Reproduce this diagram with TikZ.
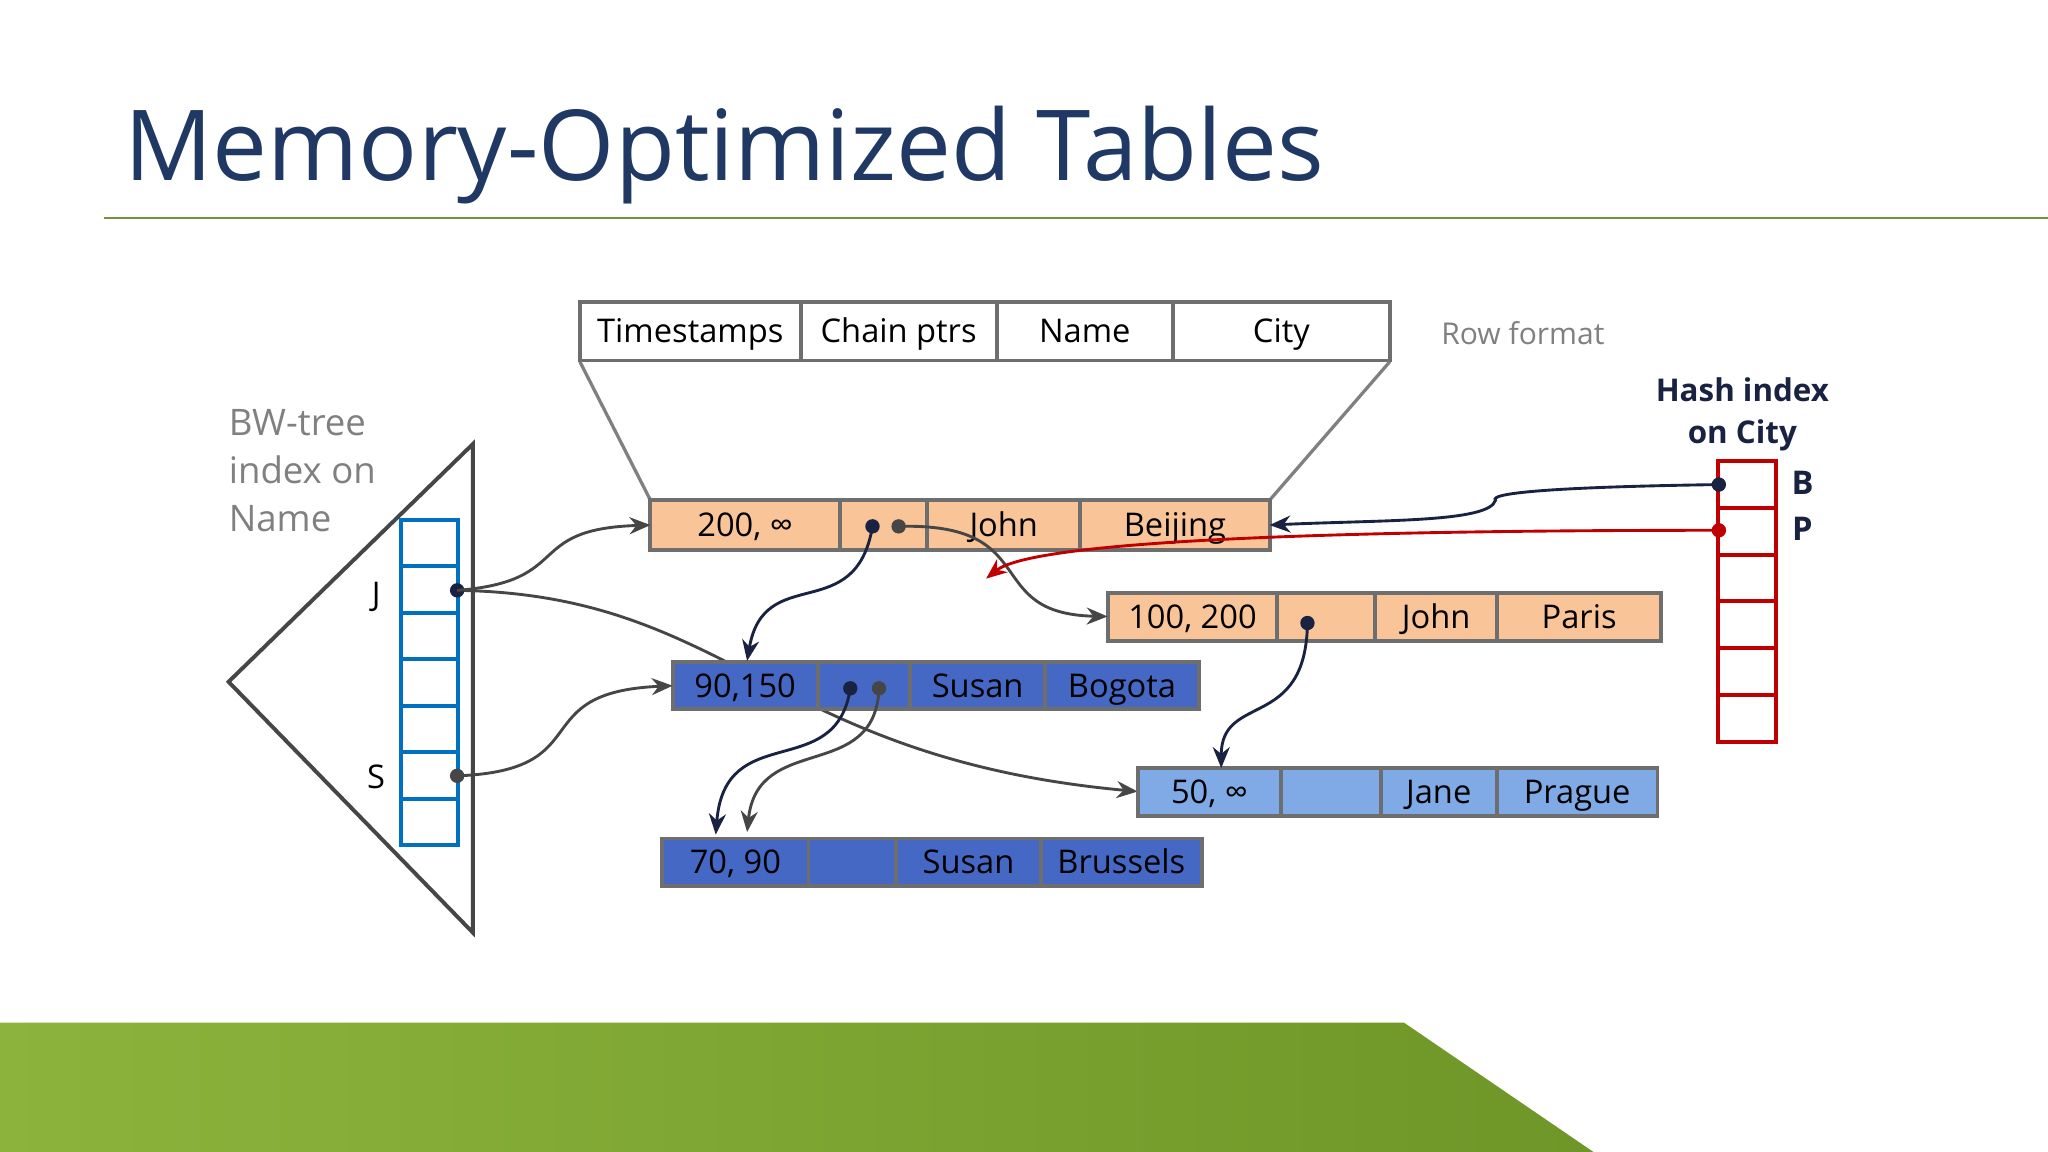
\documentclass[tikz,border=0pt]{standalone}
\usepackage{fontspec}
\setmainfont{Open Sans}
\usetikzlibrary{arrows.meta}
\definecolor{title}{RGB}{31,56,100}
\definecolor{gline}{RGB}{118,146,60}
\definecolor{orng}{RGB}{248,196,152}
\definecolor{dblue}{RGB}{68,104,196}
\definecolor{lblue}{RGB}{128,170,230}
\definecolor{bord}{RGB}{110,110,110}
\definecolor{navy}{RGB}{25,35,65}
\definecolor{arr}{RGB}{70,70,70}
\definecolor{hred}{RGB}{192,0,0}
\definecolor{bwblue}{RGB}{0,112,192}
\newcommand{\rc}[7]{%
  \path[draw=bord,line width=3pt,fill=#6] (#2,#4) rectangle (#3,#5);
  \node[font=\fontsize{25}{28}\selectfont,anchor=base,inner sep=0] (#1) at ({(#2+#3)/2},{(#4+#5)/2+9}) {#7};}
\tikzset{conn/.style={line width=2.2pt,-{Stealth[length=16pt,width=13pt]}},
  dotc/.style={circle,fill,inner sep=0pt,minimum size=11pt}}
\begin{document}
\begin{tikzpicture}[x=1pt,y=-1pt]
\useasboundingbox (0,0) rectangle (1568,882);
\fill[white] (0,0) rectangle (1568,882);
\node[anchor=base west,text=title,font=\fontsize{75}{80}\selectfont,inner sep=0] (ttl) at (95,138) {Memory-Optimized Tables};
\draw[gline,line width=2pt] (80,167) -- (1568,167);
\shade[left color={rgb,255:red,140;green,180;blue,60},right color={rgb,255:red,110;green,150;blue,40}] (0,783) -- (1075,783) -- (1220,882) -- (0,882) -- cycle;
% header
\rc{h1}{444}{613}{231}{276}{white}{Timestamps}
\rc{h2}{613}{763}{231}{276}{white}{Chain ptrs}
\rc{h3}{763}{898}{231}{276}{white}{Name}
\rc{h4}{898}{1064}{231}{276}{white}{City}
\node[text=gray,font=\fontsize{23}{28}\selectfont,anchor=west] (rf) at (1100,255) {Row format};
\draw[gray,line width=2.5pt] (444,277) -- (498,383) (1064,277) -- (972,383);
% triangle & BW tree
\draw[arr,line width=3pt,line join=miter] (362,340) -- (175,522) -- (362,714) -- cycle;
\node[text=gray,font=\fontsize{28}{37}\selectfont,align=left,anchor=north west,inner sep=0] (bw) at (175,313) {BW-tree\\index on\\Name};
\foreach \i in {0,...,6} \draw[bwblue,line width=3pt] (307,{398+35.6*\i}) rectangle (351,{398+35.6*(\i+1)});
\node[font=\fontsize{25}{28}\selectfont] (J) at (288,457) {J};
\node[font=\fontsize{25}{28}\selectfont] (S) at (288,595) {S};
\coordinate (jd) at (350,452); \coordinate (sd) at (350,594);
% long arrow behind rows
\draw[conn,arr] (jd) .. controls (560,455) and (590,580) .. (871,606);
% rows
\rc{a1}{498}{643}{383}{421}{orng}{200, ∞}
\rc{a2}{643}{710}{383}{421}{orng}{}
\rc{a3}{710}{827}{383}{421}{orng}{John}
\rc{a4}{827}{972}{383}{421}{orng}{Beijing}
\rc{b1}{848}{978}{454}{491}{orng}{100, 200}
\rc{b2}{978}{1053}{454}{491}{orng}{}
\rc{b3}{1053}{1146}{454}{491}{orng}{John}
\rc{b4}{1146}{1272}{454}{491}{orng}{Paris}
\rc{c1}{515}{626}{507}{543}{dblue}{90,150}
\rc{c2}{626}{697}{507}{543}{dblue}{}
\rc{c3}{697}{800}{507}{543}{dblue}{Susan}
\rc{c4}{800}{918}{507}{543}{dblue}{Bogota}
\rc{d1}{871}{981}{588}{625}{lblue}{50, ∞}
\rc{d2}{981}{1057}{588}{625}{lblue}{}
\rc{d3}{1057}{1146}{588}{625}{lblue}{Jane}
\rc{d4}{1146}{1269}{588}{625}{lblue}{Prague}
\rc{e1}{507}{619}{642}{678}{dblue}{70, 90}
\rc{e2}{619}{686}{642}{678}{dblue}{}
\rc{e3}{686}{797}{642}{678}{dblue}{Susan}
\rc{e4}{797}{920}{642}{678}{dblue}{Brussels}
% hash index
\foreach \i in {0,...,5} \draw[hred,line width=3pt] (1315,{353+35.8*\i}) rectangle (1360,{353+35.8*(\i+1)});
\node[text=navy,font=\bfseries\fontsize{24}{32}\selectfont,align=center] (hi) at (1334,317) {Hash index\\on City};
\node[text=navy,font=\bfseries\fontsize{25}{28}\selectfont] (B) at (1380,370) {B};
\node[text=navy,font=\bfseries\fontsize{25}{28}\selectfont] (P) at (1380,405) {P};
% dots
\node[dotc,navy] (p1) at (350,452) {};
\node[dotc,arr] (p2) at (350,594) {};
\node[dotc,navy] (r1a) at (668,403) {};
\node[dotc,arr] (r1b) at (688,403) {};
\node[dotc,navy] (r2) at (1001,477) {};
\node[dotc,navy] (r3a) at (651,527) {};
\node[dotc,arr] (r3b) at (673,527) {};
\node[dotc,navy] (hb) at (1316,371) {};
\node[dotc,hred] (hp) at (1316,406) {};
\coordinate (t1) at (498,402); \coordinate (t3) at (515,525);
\coordinate (t2) at (848,472); \coordinate (t4) at (935,588);
\coordinate (tc) at (572,506); \coordinate (te1) at (548,639); \coordinate (te2) at (572,637);
\coordinate (ta) at (972,402); \coordinate (tr) at (755,443);
% arrows
\draw[conn,arr] (p1.center) .. controls (440,445) and (400,405) .. (t1);
\draw[conn,arr] (p2.center) .. controls (460,590) and (400,530) .. (t3);
\draw[conn,navy] (r1a.center) .. controls (655,480) and (585,430) .. (tc);
\draw[conn,arr] (r1b.center) .. controls (800,400) and (750,470) .. (t2);
\draw[conn,navy] (r2.center) .. controls (1000,560) and (935,530) .. (t4);
\draw[conn,navy] (r3a.center) .. controls (640,600) and (555,550) .. (te1);
\draw[conn,arr] (r3b.center) .. controls (670,600) and (580,560) .. (te2);
\draw[conn,navy] (hb.center) .. controls (1180,373) and (1140,378) .. (1145,383) .. controls (1140,400) and (1060,398) .. (ta);
\draw[conn,hred] (hp.center) .. controls (1000,406) and (790,415) .. (tr);
\end{tikzpicture}
\end{document}
